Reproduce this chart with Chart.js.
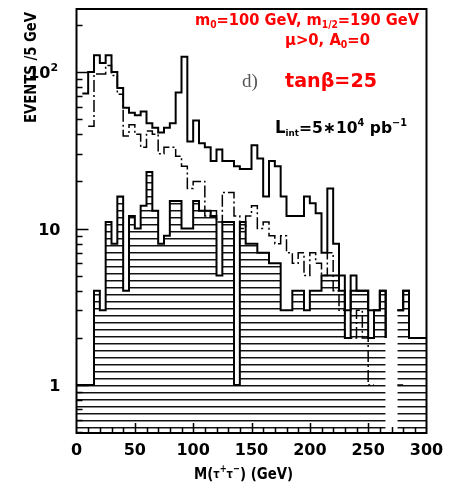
<!DOCTYPE html>
<html>
<head>
<meta charset="utf-8">
<title>M(tau tau) spectrum</title>
<script src="https://cdn.jsdelivr.net/npm/chart.js@4.4.1/dist/chart.umd.min.js"></script>
<style>
  html, body { margin: 0; padding: 0; background: #fff; }
  canvas { display: block; }
</style>
</head>
<body>
<canvas id="massChart" width="454" height="484"></canvas>
<script>
// 5 GeV bins, 0 - 300 GeV
const binWidth = 5;

// solid histogram
const totalCounts = [
  0, 73, 100, 128, 114, 128, 100, 79, 59, 55,
  53, 56, 47, 44, 41, 44, 47, 74, 125, 36,
  49, 35, 33, 27, 32, 27, 27, 25, 24, 24,
  34, 28, 16, 27, 25, 16, 12, 12, 12, 16,
  14.5, 12.5, 7, 18, 8, 5, 3, 5, 4, 4,
  3, 3, 4, 2, 0, 3, 4, 2, 2, 2
];

// dash-dotted histogram
const bkgCounts = [
  0, 0, 45, 97, 97, 110, 95, 72, 39, 46,
  40, 33, 42, 40, 30, 33, 33, 29, 25, 18,
  20, 20, 12, 13, 11, 17, 17, 12, 10, 12,
  14, 10, 11, 9, 8, 9, 7, 6, 7, 5,
  7, 6, 5, 7, 4, 3, 2, 2, 3, 2,
  1, 1, 0, 1, 0, 1, 1, 0, 1, 0
];

// hatched histogram
const signalCounts = [
  1, 1, 1, 4, 3, 11, 8, 16, 4, 12,
  10, 14, 23, 13, 8, 9, 15, 15, 10, 10,
  15, 13, 13, 12, 5, 11, 11, 1, 11, 8,
  8, 7, 7, 6, 6, 3, 3, 4, 4, 3,
  4, 4, 5, 5, 5, 4, 2, 4, 4, 4,
  2, 3, 4, 2, 0, 3, 4, 2, 2, 2
];

// axis labels
const xLabelValues = [0, 50, 100, 150, 200, 250, 300];
const yLabelValues = [1, 10, 100];
const yLabelBase = ['1', '10', '10'];
const yLabelExp = ['', '', '2'];

const FONT = 'DejaVu Sans';

// left bin edges plus the closing edge at 300
function stepPoints(counts) {
  const pts = counts.map((c, i) => ({ x: i * binWidth, y: c }));
  pts.push({ x: counts.length * binWidth, y: counts[counts.length - 1] });
  return pts;
}

// horizontal line hatching
function hatch() {
  const c = document.createElement('canvas');
  c.width = 8;
  c.height = 7;
  const g = c.getContext('2d');
  g.fillStyle = '#111';
  g.fillRect(0, 0, 8, 1);
  g.fillStyle = 'rgba(0,0,0,0.45)';
  g.fillRect(0, 1, 8, 1);
  return g.createPattern(c, 'repeat');
}

// a row of text pieces (sub/superscripts), squeezed to a given width
function drawRuns(ctx, x, y, runs, width, angle) {
  let total = 0;
  const widths = runs.map(([t, size]) => {
    ctx.font = 'bold ' + size + 'px "' + FONT + '"';
    const w = ctx.measureText(t).width;
    total += w;
    return w;
  });
  ctx.save();
  ctx.translate(x, y);
  if (angle) ctx.rotate(angle);
  if (width) ctx.scale(width / total, 1);
  let cx = 0;
  runs.forEach(([t, size, dy], i) => {
    ctx.font = 'bold ' + size + 'px "' + FONT + '"';
    ctx.fillText(t, cx, dy);
    cx += widths[i];
  });
  ctx.restore();
}

const axesFrame = {
  id: 'axesFrame',
  afterDatasetsDraw(chart) {
    const { ctx, chartArea: a } = chart;
    const xs = chart.scales.x;
    const ys = chart.scales.y;
    ctx.save();
    ctx.strokeStyle = '#000';
    ctx.lineWidth = 1.5;
    ctx.beginPath();
    // log ticks, pointing inwards
    for (let d = -1; d <= 2; d++) {
      for (let m = 1; m <= 9; m++) {
        const v = m * Math.pow(10, d);
        if (v <= ys.min || v >= ys.max) continue;
        const py = Math.round(ys.getPixelForValue(v)) + 0.5;
        ctx.moveTo(a.left, py);
        ctx.lineTo(a.left + (m === 1 ? 12 : 6), py);
      }
    }
    for (let v = 10; v < 300; v += 10) {
      const px = Math.round(xs.getPixelForValue(v)) + 0.5;
      ctx.moveTo(px, a.bottom);
      ctx.lineTo(px, a.bottom - (v % 50 === 0 ? 10 : 6));
    }
    ctx.stroke();
    ctx.lineWidth = 2;
    ctx.strokeRect(a.left, a.top, a.right - a.left, a.bottom - a.top);

    // tick labels
    ctx.fillStyle = '#000';
    ctx.font = 'bold 16px "' + FONT + '"';
    ctx.textAlign = 'center';
    ctx.textBaseline = 'alphabetic';
    xLabelValues.forEach(v => {
      ctx.fillText(String(v), xs.getPixelForValue(v), a.bottom + 22);
    });
    ctx.textAlign = 'right';
    yLabelValues.forEach((v, i) => {
      const py = ys.getPixelForValue(v);
      if (yLabelExp[i]) {
        ctx.font = 'bold 16px "' + FONT + '"';
        ctx.fillText(yLabelBase[i], a.left - 26, py + 6);
        ctx.font = 'bold 11px "' + FONT + '"';
        ctx.textAlign = 'left';
        ctx.fillText(yLabelExp[i], a.left - 26, py - 1);
        ctx.textAlign = 'right';
      } else {
        ctx.font = 'bold 16px "' + FONT + '"';
        ctx.fillText(yLabelBase[i], a.left - 16, py + 6);
      }
    });
    ctx.restore();
  }
};

const annotations = {
  id: 'annotations',
  afterDraw(chart) {
    const ctx = chart.ctx;
    ctx.save();
    ctx.textAlign = 'left';
    ctx.textBaseline = 'alphabetic';

    ctx.fillStyle = '#000';
    // axis titles
    drawRuns(ctx, 36, 123, [['EVENTS /5 GeV', 15, 0]], 111, -Math.PI / 2);
    drawRuns(ctx, 194, 479, [
      ['M(', 16, 0], ['\u03c4', 12, -1], ['+', 10, -7], ['\u03c4', 12, -1], ['\u2212', 10, -7], [') (GeV)', 16, 0]
    ], 99);

    // luminosity
    drawRuns(ctx, 275, 133, [
      ['L', 17, 0], ['int', 9, 3], ['=5\u221710', 16, 0], ['4', 10, -7], [' pb', 16, 0], ['\u22121', 10, -7]
    ], 132);

    ctx.fillStyle = '#ff0000';
    drawRuns(ctx, 195, 25, [
      ['m', 16, 0], ['0', 10, 3], ['=100 GeV, m', 16, 0], ['1/2', 10, 3], ['=190 GeV', 16, 0]
    ], 224);
    drawRuns(ctx, 285, 45, [['\u03bc>0, A', 16, 0], ['0', 10, 3], ['=0', 16, 0]], 85);
    drawRuns(ctx, 285, 87, [['tan\u03b2=25', 19, 0]], 92);

    ctx.fillStyle = '#555';
    ctx.font = '19px "Liberation Serif"';
    ctx.fillText('d)', 242, 87);
    ctx.restore();
  }
};

new Chart(document.getElementById('massChart'), {
  type: 'line',
  data: {
    datasets: [
      {
        label: 'total',
        data: stepPoints(totalCounts),
        stepped: true,
        borderColor: '#000',
        borderWidth: 2,
        pointRadius: 0,
        fill: false,
        order: 0
      },
      {
        label: 'background',
        data: stepPoints(bkgCounts),
        stepped: true,
        borderColor: '#000',
        borderWidth: 1.5,
        borderDash: [12, 3, 2, 3],
        pointRadius: 0,
        fill: false,
        order: 1
      },
      {
        label: 'signal',
        data: stepPoints(signalCounts),
        stepped: true,
        borderColor: '#000',
        borderWidth: 2,
        backgroundColor: hatch(),
        fill: 'start',
        pointRadius: 0,
        order: 2
      }
    ]
  },
  options: {
    responsive: false,
    animation: false,
    devicePixelRatio: 1,
    layout: { padding: { left: 76.5, right: 27.5, top: 9, bottom: 51 } },
    plugins: { legend: { display: false }, tooltip: { enabled: false } },
    scales: {
      x: { type: 'linear', min: 0, max: 300, display: false },
      y: { type: 'logarithmic', min: 0.4935, max: 252.7, display: false }
    }
  },
  plugins: [axesFrame, annotations]
});
</script>
</body>
</html>
